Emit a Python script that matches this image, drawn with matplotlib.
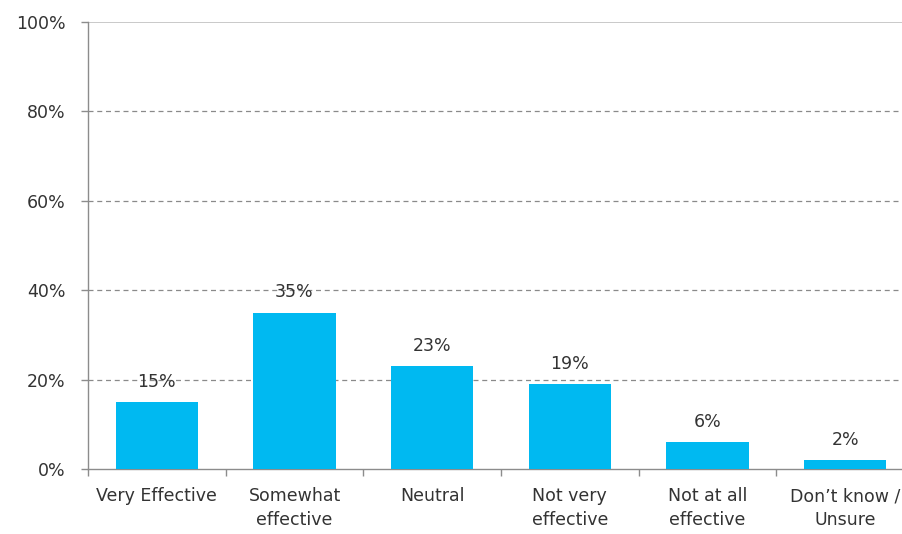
import matplotlib.pyplot as plt
import numpy as np

categories = ["Very Effective", "Somewhat\neffective", "Neutral",
              "Not very\neffective", "Not at all\neffective", "Don\u2019t know /\nUnsure"]
shares = [15, 35, 23, 19, 6, 2]
y_ticks = [0, 20, 40, 60, 80, 100]

bar_color = "#00B9F1"
text_color = "#333333"
axis_color = "#8c8c8c"
fs = 12.5

W, H = 902, 534
fig = plt.figure(figsize=(W / 100, H / 100), dpi=100)
# plot area runs a little past the right edge of the canvas
left, right, top, bottom = 88, 914, 22, 469
ax = fig.add_axes([left / W, 1 - bottom / H, (right - left) / W, (bottom - top) / H])

x = np.arange(len(categories))
ax.bar(x, shares, width=0.6, color=bar_color, zorder=3)

for xi, v in zip(x, shares):
    ax.annotate(f"{v}%", (xi, v), xytext=(0, 8), textcoords="offset points",
                ha="center", va="bottom", fontsize=fs, color=text_color, zorder=4)

ax.set_xlim(-0.5, len(categories) - 0.5)
ax.set_ylim(0, 100)

ax.set_yticks(y_ticks)
ax.set_yticklabels([f"{t}%" for t in y_ticks])
for t in y_ticks[1:-1]:
    ax.axhline(t, color="#8a8a8a", lw=0.9, ls=(0, (4, 3)), zorder=1)
ax.axhline(100, color="#c0c0c0", lw=1.2, zorder=1)

# category labels centred, ticks on the boundaries
ax.set_xticks(np.arange(len(categories) + 1) - 0.5)
ax.set_xticklabels([])
ax.set_xticks(x, minor=True)
ax.set_xticklabels(categories, minor=True, fontsize=fs, color=text_color,
                   linespacing=1.42)
ax.tick_params(axis="x", which="minor", length=0, pad=13)
ax.tick_params(axis="x", which="major", length=5, color=axis_color, width=1)
ax.tick_params(axis="y", length=5, color=axis_color, width=1, pad=11,
               labelsize=fs, labelcolor=text_color)

for side in ("top", "right"):
    ax.spines[side].set_visible(False)
for side in ("left", "bottom"):
    ax.spines[side].set_color(axis_color)
    ax.spines[side].set_linewidth(1)

fig.savefig("out.png", dpi=100)
